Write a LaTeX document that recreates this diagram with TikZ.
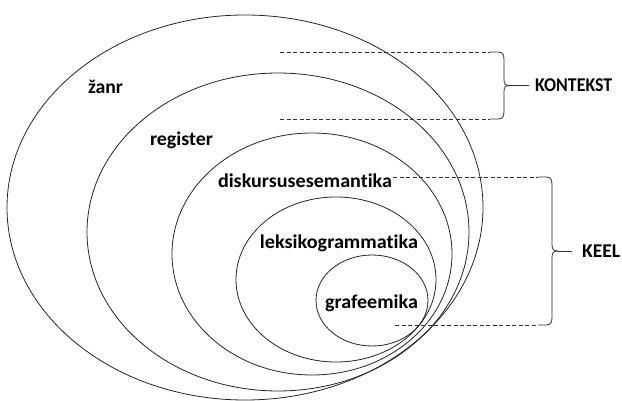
\documentclass[tikz,border=0pt]{standalone}
\usepackage{fontspec}
\usepackage{graphicx}
\setmainfont{Carlito}[Ligatures=NoCommon]
\newcommand\lblfit[2]{\resizebox{#1}{\height}{#2}}
\begin{document}
\begin{tikzpicture}[x=1pt,y=-1pt,
  ring/.style={draw=black!85,line width=0.8pt},
  lbl/.style={font=\fontsize{19.5}{22}\selectfont\bfseries,text=black,inner sep=0pt},
  dashline/.style={draw=black!80,line width=0.8pt,dash pattern=on 4pt off 2.5pt},
  bracel/.style={draw=black!80,line width=0.8pt}]
\useasboundingbox (0,0) rectangle (622,401);
% rings
\draw[ring] (245,207.5) ellipse [x radius=238pt, y radius=192.5pt];
\draw[ring] (278,232) ellipse [x radius=191pt, y radius=159pt];
\draw[ring] (312,254) ellipse [x radius=140pt, y radius=121pt];
\draw[ring] (336,279.5) ellipse [x radius=100pt, y radius=82.5pt];
\draw[ring] (372,300.5) ellipse [x radius=56pt, y radius=45.5pt];
% labels
\node[lbl] (zanr) at (105.5,87) {\lblfit{35pt}{žanr}};
\node[lbl] (register) at (181.5,140) {\lblfit{63pt}{register}};
\node[lbl] (diskursus) at (305,181) {\lblfit{174pt}{diskursusesemantika}};
\node[lbl] (leksiko) at (339,243) {\lblfit{158pt}{leksikogrammatika}};
\node[lbl] (grafeemika) at (371.5,303) {\lblfit{93pt}{grafeemika}};
\node[lbl,anchor=west] (kontekst) at (535,85.5) {\lblfit{77pt}{KONTEKST}};
\node[lbl,anchor=west] (keel) at (582,251) {\lblfit{38pt}{KEEL}};
% KONTEKST bracket
\coordinate (ka) at (280,52);
\coordinate (kb) at (490,52);
\coordinate (kc) at (280,119);
\coordinate (kd) at (490,119);
\coordinate (kt) at (510,85.5);
\draw[dashline] (ka) -- (kb);
\draw[dashline] (kc) -- (kd);
\draw[bracel] (kb) -- (498,52) .. controls (503,52) and (504,55) .. (504,60) -- (504,79) .. controls (504,84) and (505,85.5) .. (kt);
\draw[bracel] (kd) -- (498,119) .. controls (503,119) and (504,116) .. (504,111) -- (504,92) .. controls (504,87) and (505,85.5) .. (kt);
\draw[bracel] (kt) -- ([xshift=-6pt]kontekst.west);
% KEEL bracket
\coordinate (lb) at (538,177);
\coordinate (la) at (diskursus.east |- lb);
\coordinate (lc) at (395,325);
\coordinate (ld) at (538,325);
\coordinate (lt) at (558,251);
\draw[dashline] ([xshift=1pt]la) -- (lb);
\draw[dashline] (lc) -- (ld);
\draw[bracel] (lb) -- (546,177) .. controls (551,177) and (552,180) .. (552,185) -- (552,244) .. controls (552,249) and (553,251) .. (lt);
\draw[bracel] (ld) -- (546,325) .. controls (551,325) and (552,322) .. (552,317) -- (552,258) .. controls (552,253) and (553,251) .. (lt);
\draw[bracel] (lt) -- ([xshift=-10pt]keel.west);
\end{tikzpicture}
\end{document}
